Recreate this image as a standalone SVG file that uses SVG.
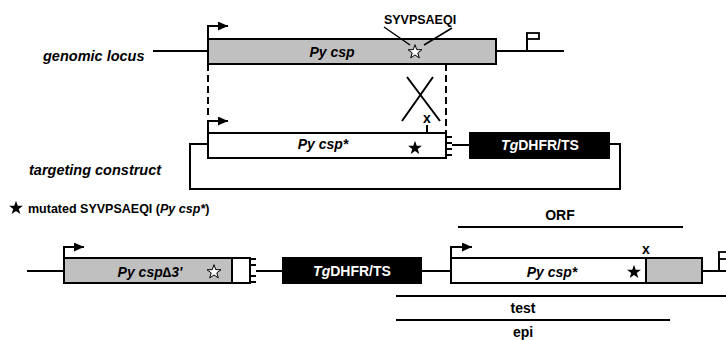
<svg xmlns="http://www.w3.org/2000/svg" xmlns:xlink="http://www.w3.org/1999/xlink" width="726" height="340" viewBox="0 0 726 340">
<style>
.ln{fill:none;stroke:#000;stroke-width:2}
.thin{fill:none;stroke:#000;stroke-width:1.5}
.dash{fill:none;stroke:#000;stroke-width:2;stroke-dasharray:7,4}
.gray{fill:#c0c0c0;stroke:#000;stroke-width:2}
.white{fill:#fff;stroke:#000;stroke-width:2}
.black{fill:#000;stroke:#000;stroke-width:2}
.prom{fill:none;stroke:#000;stroke-width:2;marker-end:url(#ah)}
text{font-family:"Liberation Sans",Arial,Helvetica,sans-serif;font-weight:bold;fill:#000}
.lab{font-size:14.5px;font-style:italic}
.gene{font-size:14px;font-style:italic;text-anchor:middle}
.tg{font-size:14px;text-anchor:middle;fill:#fff}
.mid{font-size:14px;text-anchor:middle}
.sm{font-size:12.5px}
.xl{font-size:14px;text-anchor:middle}
</style>
<defs>
<marker id="ah" markerUnits="userSpaceOnUse" markerWidth="11" markerHeight="10" refX="10" refY="4.5" orient="auto">
<path d="M0,0 L10,4.5 L0,9 z" fill="#000"/>
</marker>
<path id="star" d="M0,-7.3 L1.72,-2.36 L6.94,-2.26 L2.77,0.9 L4.29,5.91 L0,2.92 L-4.29,5.91 L-2.77,0.9 L-6.94,-2.26 L-1.72,-2.36 Z"/>
</defs>

<g id="genomic-locus">
<text class="lab" x="43" y="61">genomic locus</text>
<path class="ln" d="M153,51 H208 M496,51 H564"/>
<rect class="gray" x="208" y="39" width="288" height="25"/>
<text class="gene" x="332" y="57">Py csp</text>
<use xlink:href="#star" x="415" y="52" fill="#fff" stroke="#000" stroke-width="1"/>
<path class="prom" d="M208,39 V26 H228"/>
<path class="ln" d="M527,51 V33"/>
<rect x="527" y="33" width="12" height="6" fill="#fff" stroke="#000" stroke-width="1.8"/>
<text class="sm" x="420" y="24" text-anchor="middle">SYVPSAEQI</text>
<path class="thin" d="M384,27 L410,45 M452,28 L424,45"/>
</g>

<g id="targeting-construct">
<text class="lab" x="29" y="175">targeting construct</text>
<rect class="white" x="208" y="133" width="238" height="25"/>
<text class="gene" x="323" y="149">Py csp*</text>
<use xlink:href="#star" x="415" y="148" fill="#000"/>
<path class="prom" d="M208,133 V121 H228"/>
<path class="ln" d="M446,137 H452 M446,143 H452 M446,149 H452 M446,155 H452 M452,145 H470"/>
<rect class="black" x="470" y="133" width="139" height="25"/>
<text class="tg" x="540" y="150"><tspan font-style="italic">Tg</tspan>DHFR/TS</text>
<path class="ln" d="M609,144 H620 V189 H190 V144 H208"/>
<text class="xl" x="427" y="123">x</text>
<path class="ln" d="M427,125 V133"/>
</g>

<g id="connectors">
<path class="dash" d="M208,64 V119"/>
<path class="dash" d="M446,64 V133"/>
<path class="ln" d="M407,77 L440,121 M433,77 L402,121"/>
</g>

<g id="legend">
<use xlink:href="#star" x="16" y="208" fill="#000"/>
<text class="sm" x="28" y="213">mutated SYVPSAEQI (<tspan font-style="italic">Py csp*</tspan>)</text>
</g>

<g id="orf">
<text class="mid" x="560" y="220">ORF</text>
<path class="ln" d="M458,227 H683"/>
</g>

<g id="recombined-locus">
<path class="ln" d="M27,271 H64"/>
<rect class="gray" x="64" y="258" width="168" height="25"/>
<rect class="white" x="232" y="258" width="18" height="25"/>
<text class="gene" x="150" y="277">Py csp∆3'</text>
<use xlink:href="#star" x="214" y="272" fill="#fff" stroke="#000" stroke-width="1"/>
<path class="prom" d="M64,258 V247 H84"/>
<path class="ln" d="M250,259 H256 M250,265 H256 M250,276 H256 M250,282 H256 M256,271 H283"/>
<rect class="black" x="283" y="258" width="138" height="25"/>
<text class="tg" x="352" y="276"><tspan font-style="italic">Tg</tspan>DHFR/TS</text>
<path class="ln" d="M421,271 H451"/>
<rect class="white" x="451" y="258" width="195" height="25"/>
<rect class="gray" x="646" y="258" width="56" height="25"/>
<text class="gene" x="552" y="277">Py csp*</text>
<use xlink:href="#star" x="634" y="272" fill="#000"/>
<text class="xl" x="646" y="254">x</text>
<path class="prom" d="M451,258 V247 H472"/>
<path class="ln" d="M702,271 H726 M719,271 V252"/>
<rect x="719" y="252" width="12" height="7" fill="#fff" stroke="#000" stroke-width="1.8"/>
</g>

<g id="test">
<path class="ln" d="M396,296 H726"/>
<text class="mid" x="523" y="313">test</text>
</g>

<g id="epi">
<path class="ln" d="M396,320 H670"/>
<text class="mid" x="523" y="337">epi</text>
</g>
</svg>
